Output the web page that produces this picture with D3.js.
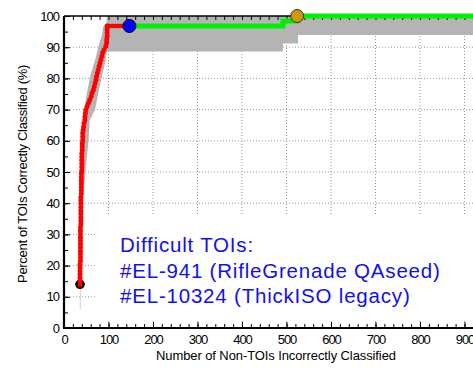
<!DOCTYPE html>
<html><head><meta charset="utf-8">
<script src="https://cdn.jsdelivr.net/npm/d3@7"></script>
<style>
html,body{margin:0;padding:0;background:#fff;}
svg{display:block;font-family:"Liberation Sans",Arial,sans-serif;}
</style></head>
<body>
<svg id="c" width="473" height="369"></svg>
<script>
// ---- data ----
const xTicks = [0,100,200,300,400,500,600,700,800,900];
const yTicks = [0,10,20,30,40,50,60,70,80,90,100];
// red curve: non-TOI false count vs percent of TOIs classified
const redX = [36,36,36,36,36,36,36,37,37,37,37,37,37,37,37,37,37,37,38,38,38,38,38,38,38,38,38,39,39,39,39,39,39,39,40,40,40,40,40,40,41,41,41,42,42,42,43,44,45,47,47,48,49,52,55,58,61,63,66,68,70,72,73,75,77,79,81,83,85,87,90,94,96,96,97,97,97,97];
const redY = [14.0,15.1,16.1,17.2,18.3,19.4,20.4,21.5,22.6,23.7,24.7,25.8,26.9,28.0,29.0,30.1,31.2,32.3,33.3,34.4,35.5,36.6,37.6,38.7,39.8,40.9,41.9,43.0,44.1,45.2,46.2,47.3,48.4,49.5,50.5,51.6,52.7,53.8,54.8,55.9,57.0,58.1,59.1,60.2,61.3,62.4,63.4,64.5,65.6,66.7,67.7,68.8,69.9,71.0,72.0,73.1,74.2,75.3,76.3,77.4,78.5,79.6,80.6,81.7,82.8,83.9,84.9,86.0,87.1,88.2,89.2,90.3,91.4,92.5,93.5,94.6,95.7,96.8];
const redTailX = [97,147];
const redTailY = [96.8,96.8];
// green curve
const greenX = [147,492,492,524,524,1000];
const greenY = [96.8,96.8,98.4,98.4,100,100];
// confidence band
const bandUpperX = [35.5,36,37,39,42,45,51,58.5,70,79,85,88,96,96,1000];
const bandUpperY = [6,14,45,58,66.7,70,75,80.5,86,91,94,96.5,98,100,100];
const bandLowerX = [37,37.5,38.5,41,47,55,58,70,77,85,94,96,492,492,526,526,1000];
const bandLowerY = [6,20,35,42,48,60,66.7,70,75.2,80.5,85.9,88.6,88.6,91.2,91.2,93.9,93.9];
// markers
const startPt = [36,14.0];
const bluePt = [147,96.8];
const orangePt = [524,100];
const noteLines = ["Difficult TOIs:","#EL-941 (RifleGrenade QAseed)","#EL-10324 (ThickISO legacy)"];

// ---- chart ----
const svg = d3.select("#c");
const x = d3.scaleLinear().domain([0,1000]).range([64,509]);
const y = d3.scaleLinear().domain([0,100]).range([328,16]);

// grid
const g = svg.append("g");
g.selectAll(".vg").data(xTicks.filter(d=>d>0)).join("line")
  .attr("x1",d=>x(d)).attr("x2",d=>x(d)).attr("y1",y(0)).attr("y2",y(100))
  .attr("stroke","#999").attr("stroke-width",1).attr("stroke-dasharray","1,2");
g.selectAll(".hg").data(yTicks.filter(d=>d>0&&d<100)).join("line")
  .attr("x1",x(0)).attr("x2",473).attr("y1",d=>y(d)).attr("y2",d=>y(d))
  .attr("stroke","#999").attr("stroke-width",1).attr("stroke-dasharray","1,2");

// band
const bandPts = bandUpperX.map((v,i)=>[v,bandUpperY[i]])
  .concat(bandLowerX.map((v,i)=>[v,bandLowerY[i]]).reverse());
svg.append("path").attr("d", d3.line().x(d=>x(d[0])).y(d=>y(d[1]))(bandPts)+"Z")
  .attr("fill","#b4b4b4");

// note box (covers grid)
svg.append("rect").attr("x",95).attr("y",215).attr("width",400).attr("height",104).attr("fill","#fff");

// axes
const axG = svg.append("g");
const minorX = d3.range(0,1001,20);
const minorY = d3.range(0,101,5);
axG.append("g").attr("transform",`translate(0,${y(0)})`)
  .call(d3.axisBottom(x).tickValues(minorX).tickSize(-4).tickFormat(""))
  .call(s=>s.select(".domain").remove());
axG.append("g").attr("transform",`translate(0,${y(100)})`)
  .call(d3.axisTop(x).tickValues(minorX).tickSize(-4).tickFormat(""))
  .call(s=>s.select(".domain").remove());
axG.append("g").attr("transform",`translate(${x(0)},0)`)
  .call(d3.axisLeft(y).tickValues(minorY).tickSize(-4).tickFormat(""))
  .call(s=>s.select(".domain").remove());

const xa = axG.append("g").attr("transform",`translate(0,${y(0)})`)
  .call(d3.axisBottom(x).tickValues(xTicks).tickSize(-6).tickPadding(4).tickFormat(d3.format("d")));
xa.select(".domain").remove();
xa.selectAll("text").attr("font-size",13).attr("letter-spacing","-1").attr("fill","#000")
  .attr("font-family","Liberation Sans, Arial, sans-serif").attr("dy","0.9em");
const ya = axG.append("g").attr("transform",`translate(${x(0)},0)`)
  .call(d3.axisLeft(y).tickValues(yTicks).tickSize(-6).tickPadding(5).tickFormat(d3.format("d")));
ya.select(".domain").remove();
ya.selectAll("text").attr("font-size",13).attr("letter-spacing","-1").attr("fill","#000")
  .attr("font-family","Liberation Sans, Arial, sans-serif");
axG.selectAll(".tick line").attr("stroke","#000").attr("stroke-width",1);

// frame lines
svg.append("line").attr("x1",x(0)).attr("x2",473).attr("y1",y(100)).attr("y2",y(100)).attr("stroke","#000").attr("stroke-width",1.5);
svg.append("line").attr("x1",x(0)).attr("x2",473).attr("y1",y(0)).attr("y2",y(0)).attr("stroke","#000").attr("stroke-width",2.2);
svg.append("line").attr("x1",x(0)).attr("x2",x(0)).attr("y1",y(100)).attr("y2",y(0)+1).attr("stroke","#000").attr("stroke-width",2.2);

// titles
svg.append("text").attr("x",276).attr("y",360).attr("text-anchor","middle").attr("font-size",13)
  .attr("letter-spacing","-0.1").text("Number of Non-TOIs Incorrectly Classified");
svg.append("text").attr("transform","translate(27,174) rotate(-90)").attr("text-anchor","middle").attr("font-size",13)
  .attr("letter-spacing","-0.3").text("Percent of TOIs Correctly Classified (%)");

// green line
const line = d3.line().x(d=>x(d[0])).y(d=>y(d[1]));
svg.append("path").attr("d",line(greenX.map((v,i)=>[v,greenY[i]])))
  .attr("fill","none").attr("stroke","#00ee00").attr("stroke-width",5);

// red line
const redPts = redX.map((v,i)=>[v,redY[i]]);
svg.append("path").attr("d",line(redPts))
  .attr("fill","none").attr("stroke","#ff0000").attr("stroke-width",2);
svg.append("path").attr("d",line(redTailX.map((v,i)=>[v,redTailY[i]])))
  .attr("fill","none").attr("stroke","#ff0000").attr("stroke-width",4.3);

// start marker
svg.append("circle").attr("cx",x(startPt[0])).attr("cy",y(startPt[1])).attr("r",4.8).attr("fill","#000");
svg.selectAll(".rd").data(redPts).join("circle")
  .attr("cx",d=>x(d[0])).attr("cy",d=>y(d[1])).attr("r",2.5).attr("fill","#ff0000");

// blue & orange markers
svg.append("circle").attr("cx",x(bluePt[0])).attr("cy",y(bluePt[1])).attr("r",6.5)
  .attr("fill","#0000ff").attr("stroke","#000").attr("stroke-width",1);
svg.append("circle").attr("cx",x(orangePt[0])).attr("cy",y(orangePt[1])).attr("r",6.5)
  .attr("fill","#cc9900").attr("stroke","#333").attr("stroke-width",1);

// note text
svg.append("g").selectAll("text").data(noteLines).join("text")
  .attr("x",120).attr("y",(d,i)=>252+i*25.5).attr("font-size",20.5).attr("letter-spacing","0.8").attr("fill","#1010f0")
  .text(d=>d);
</script>
</body></html>
